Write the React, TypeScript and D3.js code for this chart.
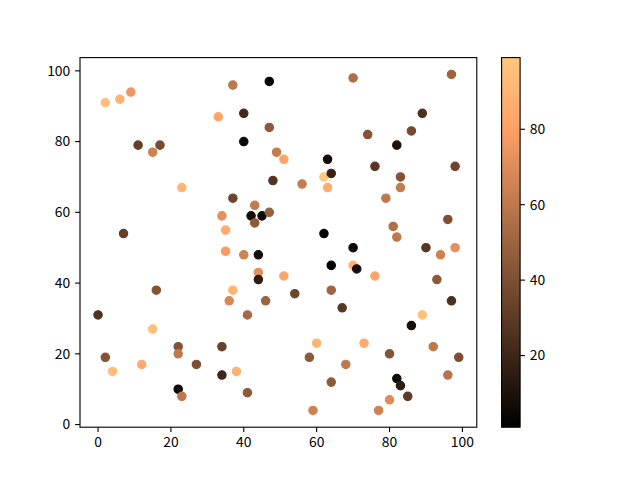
import React, { useEffect, useRef } from "react";
import * as d3 from "d3";

const xValues = [2, 6, 9, 37, 47, 33, 40, 47, 40, 11, 17, 15, 49, 23, 48, 37, 43, 34, 42, 45, 47, 43, 35, 7,
  70, 97, 89, 74, 86, 82, 51, 63, 76, 98, 56, 62, 64, 63, 83, 83, 79, 96, 81, 82, 62, 70, 90, 98,
  35, 40, 44, 44, 44, 16, 37, 36, 46, 0, 41, 15, 22, 22, 34, 2, 4, 12, 27, 34, 38, 22, 23, 41,
  94, 64, 70, 71, 51, 76, 93, 54, 64, 67, 97, 89, 86, 60, 73, 92, 58, 80, 99, 68, 96, 82, 83, 64, 85, 80, 59, 77];
const yValues = [91, 92, 94, 96, 97, 87, 88, 84, 80, 79, 79, 77, 77, 67, 69, 64, 62, 59, 59, 59, 60, 57, 55, 54,
  98, 99, 88, 82, 83, 79, 75, 75, 73, 73, 68, 70, 71, 67, 70, 67, 64, 58, 56, 53, 54, 50, 50, 50,
  49, 48, 48, 43, 41, 38, 38, 35, 35, 31, 31, 27, 22, 20, 22, 19, 15, 17, 17, 14, 15, 10, 8, 9,
  48, 45, 45, 44, 42, 42, 41, 37, 38, 33, 35, 31, 28, 23, 23, 22, 19, 20, 19, 17, 14, 13, 11, 12, 8, 7, 4, 4];
const colorValues = [95, 88, 75, 60, 3, 82, 22, 45, 5, 32, 38, 65, 62, 90, 27, 35, 62, 72, 8, 6, 48, 45, 85, 32,
  55, 50, 25, 42, 38, 10, 82, 7, 28, 35, 62, 99, 18, 85, 42, 62, 60, 40, 55, 60, 3, 5, 28, 72,
  78, 65, 8, 72, 15, 42, 90, 68, 50, 25, 52, 95, 42, 60, 33, 42, 95, 85, 40, 20, 88, 5, 60, 45,
  65, 1, 88, 8, 82, 82, 45, 35, 50, 28, 25, 95, 8, 90, 85, 60, 45, 42, 40, 60, 58, 5, 15, 45, 30, 70, 65, 65];

const xTicks = [0, 20, 40, 60, 80, 100];
const yTicks = [0, 20, 40, 60, 80, 100];
const cTicks = [20, 40, 60, 80];

function copper(t: number): string {
  const r = Math.min(1, t / 0.809524);
  const g = 0.7812 * t;
  const b = 0.4975 * t;
  return d3.rgb(r * 255, g * 255, b * 255).formatHex();
}

const W = 640, H = 480;
const L = 80, R = 476.8, T = 57.6, B = 427.2;
const CB_L = 501.6, CB_R = 520.1;
const FONT = "'Noto Sans CJK SC', 'DejaVu Sans', sans-serif";
const FS = 13.9;
const TICK = 4.86;
const PAD = 4.86;

export default function App() {
  const ref = useRef<SVGSVGElement>(null);
  useEffect(() => {
    document.body.style.margin = "0";
    const svg = d3.select(ref.current);
    svg.selectAll("*").remove();

    const [xmin, xmax] = d3.extent(xValues) as [number, number];
    const [ymin, ymax] = d3.extent(yValues) as [number, number];
    const xm = (xmax - xmin) * 0.05, ym = (ymax - ymin) * 0.05;
    const x = d3.scaleLinear().domain([xmin - xm, xmax + xm]).range([L, R]);
    const y = d3.scaleLinear().domain([ymin - ym, ymax + ym]).range([B, T]);
    const [cmin, cmax] = d3.extent(colorValues) as [number, number];
    const c = d3.scaleLinear().domain([cmin, cmax]).range([0, 1]).clamp(true);

    svg.append("rect").attr("width", W).attr("height", H).attr("fill", "white");

    const pts = svg.append("g");
    xValues.forEach((xv, i) => {
      const col = copper(c(colorValues[i]));
      pts.append("circle")
        .attr("cx", x(xv)).attr("cy", y(yValues[i]))
        .attr("r", 4.17)
        .attr("fill", col)
        .attr("stroke", col)
        .attr("stroke-width", 1.2);
    });

    // spines
    svg.append("rect").attr("x", L).attr("y", T).attr("width", R - L).attr("height", B - T)
      .attr("fill", "none").attr("stroke", "black").attr("stroke-width", 1.11);

    const xg = svg.append("g");
    xTicks.forEach((t) => {
      const px = x(t);
      xg.append("line").attr("x1", px).attr("x2", px).attr("y1", B).attr("y2", B + TICK)
        .attr("stroke", "black").attr("stroke-width", 1.11);
      xg.append("text").attr("x", px).attr("y", B + TICK + PAD).attr("dy", "0.76em")
        .attr("text-anchor", "middle").attr("font-family", FONT).attr("font-size", FS)
        .text(String(t));
    });
    const yg = svg.append("g");
    yTicks.forEach((t) => {
      const py = y(t);
      yg.append("line").attr("x1", L - TICK).attr("x2", L).attr("y1", py).attr("y2", py)
        .attr("stroke", "black").attr("stroke-width", 1.11);
      yg.append("text").attr("x", L - TICK - PAD).attr("y", py).attr("dy", "0.35em")
        .attr("text-anchor", "end").attr("font-family", FONT).attr("font-size", FS)
        .text(String(t));
    });

    // colorbar
    const defs = svg.append("defs");
    const grad = defs.append("linearGradient").attr("id", "cbgrad")
      .attr("x1", 0).attr("y1", 1).attr("x2", 0).attr("y2", 0);
    d3.range(0, 1.0001, 0.05).forEach((t) => {
      grad.append("stop").attr("offset", t).attr("stop-color", copper(t));
    });
    const cy = d3.scaleLinear().domain([cmin, cmax]).range([B, T]);
    svg.append("rect").attr("x", CB_L).attr("y", T).attr("width", CB_R - CB_L).attr("height", B - T)
      .attr("fill", "url(#cbgrad)");
    svg.append("rect").attr("x", CB_L).attr("y", T).attr("width", CB_R - CB_L).attr("height", B - T)
      .attr("fill", "none").attr("stroke", "black").attr("stroke-width", 1.11);
    cTicks.forEach((t) => {
      const py = cy(t);
      svg.append("line").attr("x1", CB_R).attr("x2", CB_R + TICK).attr("y1", py).attr("y2", py)
        .attr("stroke", "black").attr("stroke-width", 1.11);
      svg.append("text").attr("x", CB_R + TICK + PAD).attr("y", py).attr("dy", "0.35em")
        .attr("text-anchor", "start").attr("font-family", FONT).attr("font-size", FS)
        .text(String(t));
    });
  }, []);
  return (
    <svg ref={ref} width={W} height={H} style={{ position: "absolute", left: 0, top: 0, display: "block" }} />
  );
}
